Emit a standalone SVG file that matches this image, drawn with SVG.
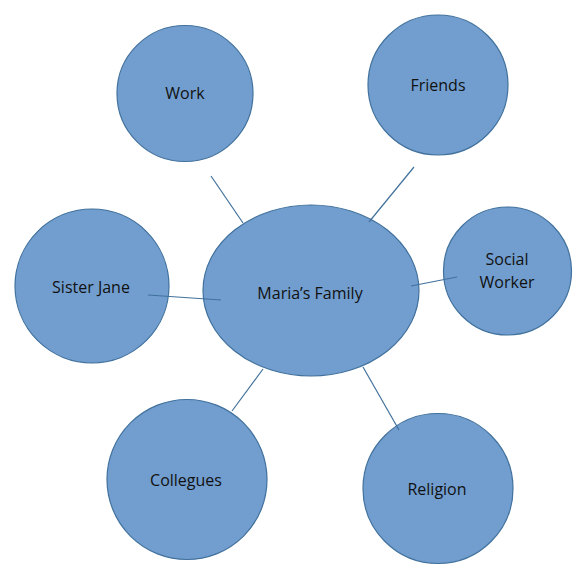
<svg xmlns="http://www.w3.org/2000/svg" width="584" height="575" viewBox="0 0 584 575">
<style>
.n{fill:#719ecf;stroke:#41719c;stroke-width:1.2}
.t{font-family:"Open Sans","Liberation Sans",sans-serif;font-size:16px;fill:#111;text-anchor:middle;dominant-baseline:central}
.c line{stroke:#41719c;stroke-width:1.2}
</style>
<rect width="584" height="575" fill="#fff"/>
<g id="work"><circle class="n" cx="185" cy="93.5" r="68"/><text class="t" x="185" y="93">Work</text></g>
<g id="friends"><circle class="n" cx="438" cy="85" r="70"/><text class="t" x="438" y="85">Friends</text></g>
<g id="sister-jane"><circle class="n" cx="92" cy="286" r="77"/><text class="t" x="91" y="287">Sister Jane</text></g>
<g id="social-worker"><circle class="n" cx="507.5" cy="271" r="64"/><text class="t" x="507" y="259">Social</text><text class="t" x="507" y="282">Worker</text></g>
<g id="collegues"><circle class="n" cx="187" cy="479.5" r="80"/><text class="t" x="186" y="480">Collegues</text></g>
<g id="religion"><circle class="n" cx="438" cy="488.5" r="75"/><text class="t" x="437" y="489">Religion</text></g>
<g id="marias-family"><ellipse class="n" cx="311" cy="290.5" rx="108" ry="85.5"/><text class="t" x="310" y="293">Maria’s Family</text></g>
<g class="c" id="connectors">
<line x1="211" y1="176" x2="243" y2="223"/>
<line x1="414" y1="167" x2="369" y2="222"/>
<line x1="148" y1="295" x2="221" y2="300"/>
<line x1="411" y1="286" x2="457" y2="277"/>
<line x1="263" y1="369" x2="232" y2="411"/>
<line x1="363" y1="367" x2="399" y2="430"/>
</g>
</svg>
